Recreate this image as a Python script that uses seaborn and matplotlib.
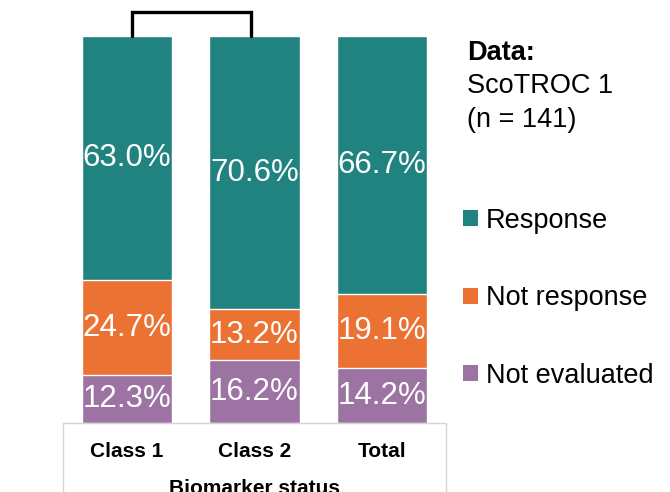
import matplotlib
matplotlib.use("Agg")
import matplotlib.pyplot as plt
import seaborn as sns
import numpy as np
import pandas as pd
from matplotlib.patches import Patch, Rectangle

# data (%)
categories = ["Class 1", "Class 2", "Total"]
not_evaluated = [12.3, 16.2, 14.2]
not_response = [24.7, 13.2, 19.1]
response = [63.0, 70.6, 66.7]

series_names = ["Response", "Not response", "Not evaluated"]
teal = "#21837f"
orange = "#ec7233"
purple = "#9c73a2"

sns.set_theme(style="white")
plt.rcParams["font.family"] = ["Liberation Sans", "DejaVu Sans"]
plt.rcParams["text.color"] = "black"
plt.rcParams["xtick.color"] = "black"
plt.rcParams["axes.labelcolor"] = "black"

df = pd.DataFrame({
    "status": categories,
    "ne": not_evaluated,
    "nr": not_response,
    "r": response,
})
df["cum_ne"] = df["ne"]
df["cum_nr"] = df["ne"] + df["nr"]
df["cum_r"] = df["ne"] + df["nr"] + df["r"]

fig = plt.figure(figsize=(6.7, 4.92), dpi=100)
W, H = 670, 492
ax = fig.add_axes([63 / W, (H - 423) / H, 383 / W, 387 / H])

# stacked bars drawn as overlapping cumulative layers
sns.barplot(data=df, x="status", y="cum_r", color=teal, width=0.71,
            saturation=1, ax=ax)
sns.barplot(data=df, x="status", y="cum_nr", color=orange, width=0.71,
            saturation=1, ax=ax)
sns.barplot(data=df, x="status", y="cum_ne", color=purple, width=0.71,
            saturation=1, ax=ax)

ax.set_ylim(0, 100)
ax.set_xlim(-0.5, 2.5)

# percentage labels in segment centres
for i, row in df.iterrows():
    for bottom, val in [(0, row["ne"]), (row["cum_ne"], row["nr"]),
                        (row["cum_nr"], row["r"])]:
        ax.text(i, bottom + val / 2, f"{val:.1f}%", ha="center",
                va="center", color="white", fontsize=22.5)

for s in ax.spines.values():
    s.set_visible(False)
ax.set_yticks([])
ax.tick_params(axis="x", length=0, pad=14, labelsize=15)
for lab in ax.get_xticklabels():
    lab.set_fontweight("bold")
ax.set_xlabel("Biomarker status", fontsize=15, fontweight="bold",
              labelpad=13)
ax.set_ylabel("")

# light box under the categories
ax.add_patch(Rectangle((0, 0), 1, -0.3, transform=ax.transAxes,
                       fill=False, edgecolor="#d4d4d4", lw=1,
                       clip_on=False))

# significance bracket between Class 1 and Class 2
ax.plot([0.04, 0.04, 0.973, 0.973], [100, 106.2, 106.2, 100],
        color="black", lw=2.4, clip_on=False, solid_joinstyle="miter")

# data note
fig.text(467 / W, 1 - 53 / H, "Data:", fontsize=19.5, fontweight="bold",
         va="center", ha="left")
fig.text(467 / W, 1 - 86 / H, "ScoTROC 1", fontsize=19.5, va="center",
         ha="left")
fig.text(467 / W, 1 - 120 / H, "(n = 141)", fontsize=19.5, va="center",
         ha="left")

handles = [Patch(facecolor=c, edgecolor="none") for c in (teal, orange, purple)]
fig.legend(handles, series_names, loc="upper left",
           bbox_to_anchor=(452 / W, 1 - 197 / H), frameon=False,
           fontsize=19.5, handlelength=0.55, handleheight=0.55,
           handletextpad=0.3, labelspacing=1.9, borderaxespad=0)

fig.savefig("out.png", dpi=100)
